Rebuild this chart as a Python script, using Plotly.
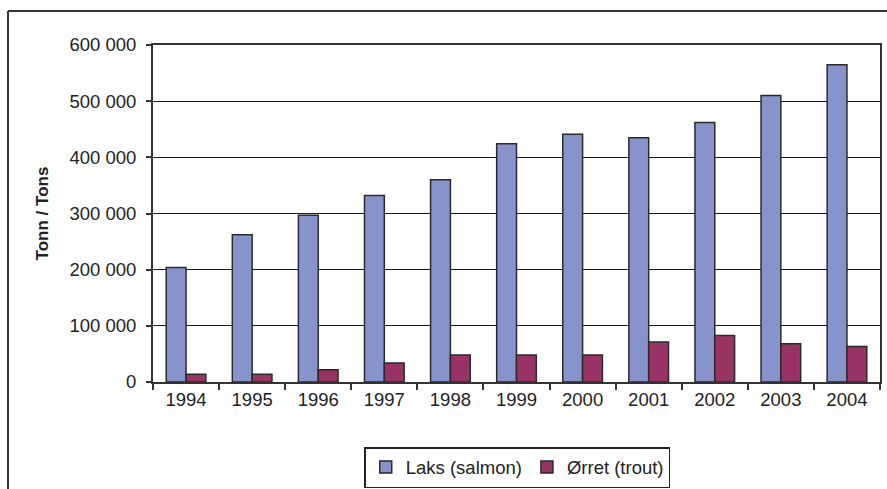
import plotly.graph_objects as go

years = ["1994", "1995", "1996", "1997", "1998", "1999", "2000", "2001", "2002", "2003", "2004"]
salmon = [204000, 262000, 297000, 332000, 360000, 424000, 441000, 435000, 462000, 510000, 565000]
trout = [14000, 14000, 22000, 34000, 48000, 48000, 48000, 71000, 83000, 68000, 63000]

W, H = 887, 489
ML, MR, MT, MB = 153, 7, 45, 107
pw = W - ML - MR
ph = H - MT - MB

fig = go.Figure()
fig.add_trace(go.Bar(x=years, y=salmon, name="Laks (salmon)",
                     marker=dict(color="#8794cb", line=dict(color="#2a2a2a", width=1.5))))
fig.add_trace(go.Bar(x=years, y=trout, name="Ørret (trout)",
                     marker=dict(color="#993366", line=dict(color="#2a2a2a", width=1.5))))

font = "Liberation Sans, Arial, sans-serif"

# outer chart frame: only top and left show, the rest is cut off in the source
fx0 = (8 - ML) / pw
fx1 = (W - ML) / pw
fy1 = (H - MB - 11) / ph
fy0 = -(H - MT - ph) / ph
fig.add_shape(type="line", xref="paper", yref="paper", x0=fx0, x1=fx1, y0=fy1, y1=fy1,
              line=dict(color="#333333", width=2), layer="below")
fig.add_shape(type="line", xref="paper", yref="paper", x0=fx0, x1=fx0, y0=fy0, y1=fy1,
              line=dict(color="#333333", width=2), layer="below")

fig.update_layout(
    width=W, height=H,
    margin=dict(l=ML, r=MR, t=MT, b=MB, autoexpand=False),
    paper_bgcolor="white", plot_bgcolor="white",
    barmode="group", bargap=0.4, bargroupgap=0,
    separators=", ",
    font=dict(family=font, size=18.5, color="#222222"),
    legend=dict(orientation="h", x=0.501, xanchor="center",
                yref="container", y=1 - 447 / H, yanchor="top",
                bordercolor="#222222", borderwidth=1.5, font=dict(size=18.5),
                itemwidth=30, tracegroupgap=0),
    showlegend=True,
)
fig.update_xaxes(type="category", tickson="boundaries", ticks="outside", ticklen=6,
                 tickwidth=2, tickcolor="#333333", showline=True, linecolor="#333333",
                 linewidth=2, mirror=True, showgrid=False)
fig.update_yaxes(range=[0, 600000], dtick=100000, tickformat=",d", ticks="outside",
                 ticklen=5, tickwidth=2, tickcolor="#333333", showline=True,
                 linecolor="#333333", linewidth=2, mirror=True, ticklabelstandoff=6,
                 showgrid=True, gridcolor="#1a1a1a", gridwidth=1, zeroline=False,
                 title=dict(text="<b>Tonn / Tons</b>", font=dict(size=17), standoff=16))

# the page body has a default 8px margin; drop it so the chart sits at the window corner
fig.write_html("out.html", config={"displayModeBar": False},
               post_script="document.body.style.margin='0';")
